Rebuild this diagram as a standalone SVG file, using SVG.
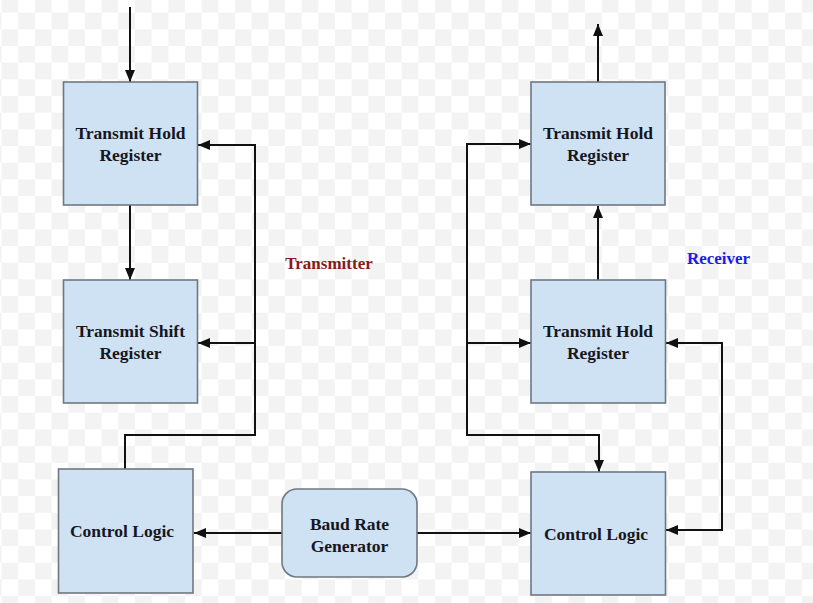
<svg xmlns="http://www.w3.org/2000/svg" width="813" height="603" viewBox="0 0 813 603">
<style>
.box{fill:#cfe2f3;stroke:#6f7880;stroke-width:1.6}
.lbl{font-family:"Liberation Serif","Times New Roman",serif;font-weight:bold;font-size:17.5px;fill:#16161e;text-anchor:middle}
.ttl{font-family:"Liberation Serif","Times New Roman",serif;font-weight:bold;font-size:17px;text-anchor:middle}
.wire{fill:none;stroke:#111;stroke-width:2}
</style>
<defs>
<pattern id="chk" x="1.6" y="-4" width="33.34" height="33.34" patternUnits="userSpaceOnUse">
<rect width="33.34" height="33.34" fill="#ffffff"/>
<rect width="16.67" height="16.67" fill="#f3f3f3"/>
<rect x="16.67" y="16.67" width="16.67" height="16.67" fill="#f3f3f3"/>
</pattern>
<marker id="ah" viewBox="0 0 12 10" refX="12" refY="5" markerWidth="12" markerHeight="10" markerUnits="userSpaceOnUse" orient="auto-start-reverse">
<path d="M0,0 L12,5 L0,10 z" fill="#111"/>
</marker>
</defs>
<rect width="813" height="603" fill="url(#chk)"/>
<g id="connectors">
<path class="wire" d="M130,7 V82" marker-end="url(#ah)"/>
<path class="wire" d="M130,205 V280" marker-end="url(#ah)"/>
<path class="wire" d="M125,469 V435 H255 V145 H198" marker-end="url(#ah)"/>
<path class="wire" d="M255,343 H198" marker-end="url(#ah)"/>
<path class="wire" d="M282,533 H194" marker-end="url(#ah)"/>
<path class="wire" d="M417,533 H531" marker-end="url(#ah)"/>
<path class="wire" d="M598,82 V24" marker-end="url(#ah)"/>
<path class="wire" d="M598,280 V206" marker-end="url(#ah)"/>
<path class="wire" d="M531,144 H467 V435 H599 V472" marker-start="url(#ah)" marker-end="url(#ah)"/>
<path class="wire" d="M467,343 H531" marker-end="url(#ah)"/>
<path class="wire" d="M666,343 H722 V530 H666" marker-start="url(#ah)" marker-end="url(#ah)"/>
</g>
<g id="tx-hold">
<rect class="box" x="63.5" y="82" width="134" height="123"/>
<text class="lbl" x="130.5" y="139">Transmit Hold</text>
<text class="lbl" x="130.5" y="161">Register</text>
</g>
<g id="tx-shift">
<rect class="box" x="63.5" y="280" width="134" height="123"/>
<text class="lbl" x="130.5" y="337">Transmit Shift</text>
<text class="lbl" x="130.5" y="359">Register</text>
</g>
<g id="tx-control">
<rect class="box" x="58.5" y="469" width="134.5" height="124"/>
<text class="lbl" x="122" y="537">Control Logic</text>
</g>
<g id="baud">
<rect class="box" x="282" y="489" width="135" height="88" rx="15" ry="15"/>
<text class="lbl" x="349.5" y="530">Baud Rate</text>
<text class="lbl" x="349.5" y="552">Generator</text>
</g>
<g id="rx-hold-top">
<rect class="box" x="531" y="82" width="134" height="123"/>
<text class="lbl" x="598" y="139">Transmit Hold</text>
<text class="lbl" x="598" y="161">Register</text>
</g>
<g id="rx-hold">
<rect class="box" x="531" y="280" width="134.5" height="123"/>
<text class="lbl" x="598" y="337">Transmit Hold</text>
<text class="lbl" x="598" y="359">Register</text>
</g>
<g id="rx-control">
<rect class="box" x="531" y="472" width="134.5" height="123"/>
<text class="lbl" x="596" y="540">Control Logic</text>
</g>
<text class="ttl" x="329" y="269" fill="#8b1818">Transmitter</text>
<text class="ttl" x="718.5" y="264" fill="#1c1ce6">Receiver</text>
</svg>
